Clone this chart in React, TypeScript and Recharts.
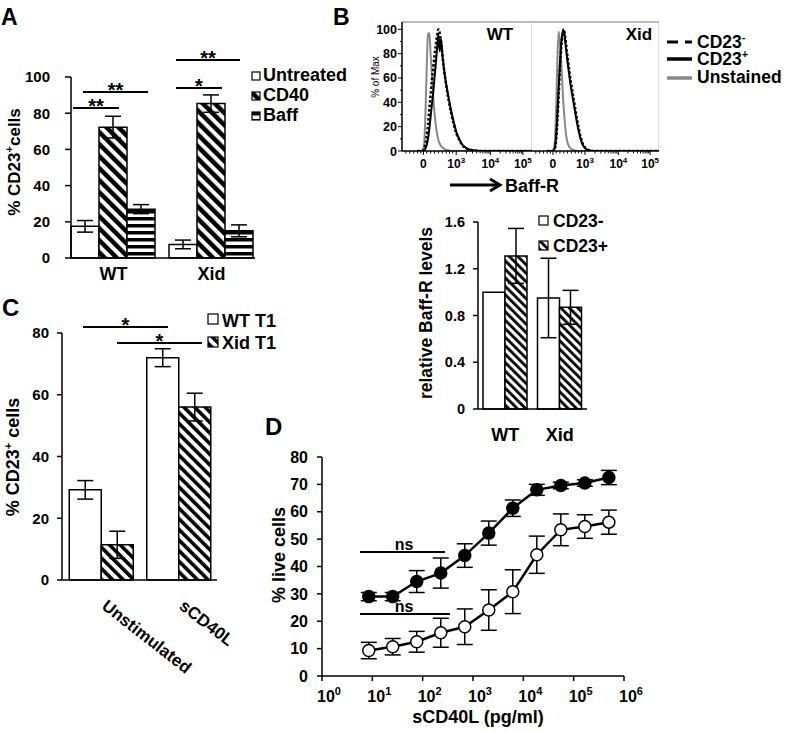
import React from 'react';
import { BarChart, Bar, LineChart, Line, XAxis, YAxis, ErrorBar, ReferenceLine } from 'recharts';

const FONT = '"Liberation Sans", Arial, Helvetica, sans-serif';

// ---- Panel A: % CD23+ cells after treatment ----
const groupsA = ['WT', 'Xid'];
const untreatedA = [17.5, 7.5];
const untreatedErrA = [3.2, 2.4];
const cd40A = [72.3, 85.3];
const cd40ErrA = [6, 4.8];
const baffA = [27, 15];
const baffErrA = [2.5, 3.3];
const ticksA = [0, 20, 40, 60, 80, 100];

// ---- Panel B: Baff-R histograms (channel units, % of max) ----
const histCh = [12, 14, 16, 17, 18, 19, 20, 21, 22, 23, 24, 25, 26, 27, 28, 29, 30, 31, 32, 34, 36, 38, 40, 42, 44, 46, 48, 50, 53, 56, 60, 100];
const wtUnstained = [0, 0, 0.5, 5, 30, 68, 96, 97, 80, 62, 44, 32, 21, 14, 9, 6, 4, 3, 2, 1, 0.5, 0, 0, 0, 0, 0, 0, 0, 0, 0, 0, 0];
const wtNeg = [0, 0, 0.5, 2, 6, 12, 22, 34, 46, 58, 68, 78, 87, 95, 100, 97, 90, 80, 70, 54, 41, 30, 21, 14, 9, 5.5, 3, 1.8, 0.8, 0.3, 0, 0];
const wtPos = [0, 0, 0, 0.5, 2, 5, 10, 18, 28, 38, 48, 60, 72, 84, 96, 82, 92, 80, 70, 55, 43, 32, 23, 15, 10, 6, 3.5, 2, 1, 0.5, 0, 0];
const xidUnstained = [0, 0, 0, 1, 8, 35, 75, 98, 88, 74, 52, 35, 22, 12, 7, 4, 2.5, 1.5, 1, 0.4, 0, 0, 0, 0, 0, 0, 0, 0, 0, 0, 0, 0];
const xidNeg = [0, 0, 0, 0.5, 2, 9, 25, 46, 68, 85, 95, 100, 95, 86, 77, 69, 61, 54, 48, 35, 23, 13, 6, 2.5, 1, 0.5, 0, 0, 0, 0, 0, 0];
const xidPos = [0, 0, 0, 0.5, 3, 12, 30, 52, 72, 88, 97, 99, 92, 82, 73, 65, 57, 50, 44, 32, 20, 11, 5, 2, 1, 0.5, 0, 0, 0, 0, 0, 0];
const histMajorTicks = [16.5, 41.7, 68, 93];
const histTickLabels = ['0', '10^3', '10^4', '10^5'];
const histMinorTicks = [3, 6, 9, 12, 14.5, 19, 22, 25, 28, 31, 34, 36.5, 39, 49.6, 54.2, 57.5, 60.1, 62.2, 63.9, 65.4, 66.8, 75.5, 79.9, 83, 85.5, 87.5, 89.1, 90.6, 91.9];
const histYTicks = [0, 10, 20, 30, 40, 50, 60, 70, 80, 90, 100];

// ---- Panel B: relative Baff-R levels ----
const groupsB = ['WT', 'Xid'];
const cd23NegB = [1.0, 0.95];
const cd23NegErrB = [0, 0.34];
const cd23PosB = [1.31, 0.87];
const cd23PosErrB = [0.235, 0.145];
const ticksB = [0, 0.4, 0.8, 1.2, 1.6];

// ---- Panel C: % CD23+ cells, T1 cells ----
const groupsC = ['Unstimulated', 'sCD40L'];
const wtT1 = [29.2, 72];
const wtT1Err = [3, 2.9];
const xidT1 = [11.4, 56];
const xidT1Err = [4.4, 4.5];
const ticksC = [0, 20, 40, 60, 80];

// ---- Panel D: % live cells vs sCD40L ----
const concD = [8.5, 25.4, 76.2, 229, 686, 2058, 6173, 18519, 55556, 166667, 500000];
const wtLive = [29, 29, 34.5, 37.6, 44, 52.2, 61.3, 68, 69.6, 70.5, 72.5];
const wtLiveErr = [1.5, 1.5, 4, 5.5, 4.3, 4.4, 3, 2, 1.2, 1.2, 2.6];
const xidLive = [9.3, 10.7, 12.5, 15.8, 18, 24.1, 30.8, 44.3, 53.4, 54.6, 56.2];
const xidLiveErr = [3, 3, 3.8, 5.3, 6.5, 7.4, 8, 6.8, 5.8, 4.3, 4.4];
const ticksDX = [1, 10, 100, 1000, 10000, 100000, 1000000];
const tickLabelsDX = ['10^0', '10^1', '10^2', '10^3', '10^4', '10^5', '10^6'];
const ticksDY = [0, 10, 20, 30, 40, 50, 60, 70, 80];

const dataA = groupsA.map((group, i) => ({
  group,
  untreated: untreatedA[i], untreatedErr: untreatedErrA[i],
  cd40: cd40A[i], cd40Err: cd40ErrA[i],
  baff: baffA[i], baffErr: baffErrA[i],
}));
const histWT = histCh.map((ch, i) => ({ ch, unstained: wtUnstained[i], neg: wtNeg[i], pos: wtPos[i] }));
const histXid = histCh.map((ch, i) => ({ ch, unstained: xidUnstained[i], neg: xidNeg[i], pos: xidPos[i] }));
const dataB = groupsB.map((group, i) => ({
  group, neg: cd23NegB[i], negErr: cd23NegErrB[i], pos: cd23PosB[i], posErr: cd23PosErrB[i],
}));
const dataC = groupsC.map((group, i) => ({
  group, wt: wtT1[i], wtErr: wtT1Err[i], xid: xidT1[i], xidErr: xidT1Err[i],
}));
const dataD = concD.map((conc, i) => ({
  conc, wt: wtLive[i], wtErr: wtLiveErr[i], xid: xidLive[i], xidErr: xidLiveErr[i],
}));

const axisStyle = { stroke: '#000', strokeWidth: 1.5 };
const tickStyle = (size: number) => ({ fill: '#000', fontSize: size, fontWeight: 700 });

const PowText = ({ x, y, label, size, supSize, rise }: any) => {
  const [base, exp] = label.split('^');
  return (
    <text x={x} y={y} textAnchor="middle" fontSize={size} fontWeight={700} fill="#000">
      {base}
      {exp !== undefined && <tspan fontSize={supSize} dy={-rise}>{exp}</tspan>}
    </text>
  );
};

const HistYTick = ({ x, y, payload }: any) => {
  const major = payload.value % 20 === 0;
  return (
    <g>
      <line x1={x - (major ? 4 : 2)} x2={x} y1={y} y2={y} stroke="#000" strokeWidth={1} />
      {major && (
        <text x={x - 5} y={y} dy={4.5} textAnchor="end" fontSize={12.5} fontWeight={700} fill="#000">
          {payload.value}
        </text>
      )}
    </g>
  );
};

const HistXTick = ({ x, y, payload }: any) => {
  const i = histMajorTicks.indexOf(payload.value);
  return (
    <g>
      <line x1={x} x2={x} y1={y} y2={y + (i >= 0 ? 4 : 2.5)} stroke="#000" strokeWidth={1} />
      {i >= 0 && <PowText x={x} y={y + 17} label={histTickLabels[i]} size={12} supSize={8} rise={5} />}
    </g>
  );
};

const CTick = ({ x, y, payload }: any) => (
  <text x={x} y={y + 28} transform={`rotate(38, ${x}, ${y + 28})`} textAnchor="start" fontSize={17} fontWeight={700} fill="#000">
    {payload.value}
  </text>
);

const DXTick = ({ x, y, payload }: any) => {
  const i = ticksDX.indexOf(payload.value);
  return (
    <g>
      <line x1={x} x2={x} y1={y} y2={y + 5} stroke="#000" strokeWidth={1.5} />
      <PowText x={x + 7} y={y + 26} label={tickLabelsDX[i]} size={16} supSize={11} rise={7} />
    </g>
  );
};

const HistPanel = ({ data, withLabels }: any) => (
  <LineChart width={withLabels ? 182 : 127} height={176} data={data} margin={{ top: 22, right: 0, bottom: 0, left: 0 }}>
    <XAxis
      dataKey="ch" type="number" domain={[0, 100]} ticks={[...histMajorTicks, ...histMinorTicks]} interval={0}
      height={25} tickLine={false} tickSize={0} tickMargin={0} tick={HistXTick} axisLine={axisStyle}
    />
    {withLabels ? (
      <YAxis
        width={52} domain={[0, 106]} ticks={histYTicks} interval={0} allowDataOverflow
        tickLine={false} tickSize={0} tickMargin={0} tick={HistYTick} axisLine={axisStyle}
      />
    ) : (
      <YAxis width={0} domain={[0, 106]} allowDataOverflow tick={false} tickLine={false} axisLine={{ stroke: '#bbb' }} />
    )}
    <ReferenceLine y={106} stroke="#777" />
    <ReferenceLine x={100} stroke="#bbb" />
    <Line type="monotone" dataKey="unstained" stroke="#888" strokeWidth={2} dot={false} isAnimationActive={false} />
    <Line type="monotone" dataKey="pos" stroke="#000" strokeWidth={2} dot={false} isAnimationActive={false} />
    <Line type="monotone" dataKey="neg" stroke="#000" strokeWidth={2.5} strokeDasharray="2.5 2" dot={false} isAnimationActive={false} />
  </LineChart>
);

const sigLines = [
  { x1: 73, x2: 119, y: 108, t: '**' },
  { x1: 83, x2: 148, y: 92, t: '**' },
  { x1: 176, x2: 222, y: 88, t: '*' },
  { x1: 176, x2: 240, y: 60, t: '**' },
  { x1: 83, x2: 168, y: 327, t: '*' },
  { x1: 117, x2: 202, y: 343, t: '*' },
];
const nsLines = [
  { x1: 360, x2: 445, y: 552 },
  { x1: 360, x2: 450, y: 614 },
];

export default function App() {
  return (
    <div style={{ position: 'absolute', left: 0, top: 0, width: 787, height: 733, background: '#fff', fontFamily: FONT, overflow: 'hidden' }}>
      <svg width={0} height={0} style={{ position: 'absolute' }}>
        <defs>
          <pattern id="diagA" patternUnits="userSpaceOnUse" width={8.5} height={8.5} patternTransform="rotate(-45)">
            <rect width={8.5} height={8.5} fill="#fff" />
            <rect width={4.5} height={8.5} fill="#000" />
          </pattern>
          <pattern id="horizA" patternUnits="userSpaceOnUse" width={8} height={7}>
            <rect width={8} height={7} fill="#fff" />
            <rect width={8} height={3.5} fill="#000" />
          </pattern>
          <pattern id="diagB" patternUnits="userSpaceOnUse" width={6} height={6} patternTransform="rotate(-45)">
            <rect width={6} height={6} fill="#fff" />
            <rect width={2.8} height={6} fill="#000" />
          </pattern>
          <pattern id="diagC" patternUnits="userSpaceOnUse" width={7.5} height={7.5} patternTransform="rotate(-45)">
            <rect width={7.5} height={7.5} fill="#fff" />
            <rect width={3.6} height={7.5} fill="#000" />
          </pattern>
        </defs>
      </svg>

      {/* A */}
      <div style={{ position: 'absolute', left: 0, top: 0 }}>
        <BarChart width={270} height={290} data={dataA} margin={{ top: 77, right: 15, bottom: 0, left: 0 }} barGap={0} barCategoryGap={6.5}>
          <XAxis dataKey="group" height={32} padding={{ left: -6.5, right: -5.5 }} axisLine={axisStyle} tickLine={false} tickSize={0} tickMargin={9} interval={0} tick={tickStyle(18)} />
          <YAxis width={71} domain={[0, 100]} ticks={ticksA} interval={0} axisLine={axisStyle} tickLine={axisStyle} tickSize={6} tickMargin={15} tick={tickStyle(15)} />
          <Bar dataKey="untreated" fill="#fff" stroke="#000" strokeWidth={1.5} isAnimationActive={false}>
            <ErrorBar dataKey="untreatedErr" width={8} stroke="#000" strokeWidth={1.5} direction="y" />
          </Bar>
          <Bar dataKey="cd40" fill="url(#diagA)" stroke="#000" strokeWidth={1.5} isAnimationActive={false}>
            <ErrorBar dataKey="cd40Err" width={8} stroke="#000" strokeWidth={1.5} direction="y" />
          </Bar>
          <Bar dataKey="baff" fill="url(#horizA)" stroke="#000" strokeWidth={1.5} isAnimationActive={false}>
            <ErrorBar dataKey="baffErr" width={8} stroke="#000" strokeWidth={1.5} direction="y" />
          </Bar>
        </BarChart>
      </div>

      {/* B histograms */}
      <div style={{ position: 'absolute', left: 350, top: 0 }}>
        <HistPanel data={histWT} withLabels />
      </div>
      <div style={{ position: 'absolute', left: 532, top: 0 }}>
        <HistPanel data={histXid} withLabels={false} />
      </div>

      {/* B bars */}
      <div style={{ position: 'absolute', left: 400, top: 200 }}>
        <BarChart width={190} height={252} data={dataB} margin={{ top: 22, right: 3, bottom: 0, left: 0 }} barGap={0} barCategoryGap={5}>
          <XAxis dataKey="group" height={43} axisLine={axisStyle} tickLine={false} tickSize={0} tickMargin={19} interval={0} tick={tickStyle(18)} />
          <YAxis width={78} domain={[0, 1.6]} ticks={ticksB} interval={0} axisLine={axisStyle} tickLine={axisStyle} tickSize={5} tickMargin={8} tick={tickStyle(14.5)} />
          <Bar dataKey="neg" fill="#fff" stroke="#000" strokeWidth={1.5} isAnimationActive={false}>
            <ErrorBar dataKey="negErr" width={8} stroke="#000" strokeWidth={1.5} direction="y" />
          </Bar>
          <Bar dataKey="pos" fill="url(#diagB)" stroke="#000" strokeWidth={1.5} isAnimationActive={false}>
            <ErrorBar dataKey="posErr" width={8} stroke="#000" strokeWidth={1.5} direction="y" />
          </Bar>
        </BarChart>
      </div>

      {/* C */}
      <div style={{ position: 'absolute', left: 0, top: 300 }}>
        <BarChart width={240} height={390} data={dataC} margin={{ top: 33, right: 23, bottom: 0, left: 0 }} barGap={0} barCategoryGap={7.25}>
          <XAxis dataKey="group" height={110} axisLine={axisStyle} tickLine={false} tickSize={0} tickMargin={0} interval={0} tick={CTick} />
          <YAxis width={62} domain={[0, 80]} ticks={ticksC} interval={0} axisLine={axisStyle} tickLine={axisStyle} tickSize={5} tickMargin={8} tick={tickStyle(15)} />
          <Bar dataKey="wt" fill="#fff" stroke="#000" strokeWidth={1.5} isAnimationActive={false}>
            <ErrorBar dataKey="wtErr" width={8} stroke="#000" strokeWidth={1.5} direction="y" />
          </Bar>
          <Bar dataKey="xid" fill="url(#diagC)" stroke="#000" strokeWidth={1.5} isAnimationActive={false}>
            <ErrorBar dataKey="xidErr" width={8} stroke="#000" strokeWidth={1.5} direction="y" />
          </Bar>
        </BarChart>
      </div>

      {/* D */}
      <div style={{ position: 'absolute', left: 260, top: 430 }}>
        <LineChart width={410} height={290} data={dataD} margin={{ top: 27, right: 46, bottom: 0, left: 0 }}>
          <XAxis dataKey="conc" type="number" scale="log" domain={[1, 1000000]} ticks={ticksDX} interval={0} height={44} axisLine={axisStyle} tickLine={false} tickSize={0} tickMargin={0} tick={DXTick} />
          <YAxis width={62} domain={[0, 80]} ticks={ticksDY} interval={0} axisLine={axisStyle} tickLine={axisStyle} tickSize={5} tickMargin={9} tick={tickStyle(16)} />
          <Line dataKey="wt" stroke="#000" strokeWidth={2.5} dot={{ r: 6, fill: '#000', stroke: '#000', strokeWidth: 1.5 }} isAnimationActive={false}>
            <ErrorBar dataKey="wtErr" width={8} stroke="#000" strokeWidth={1.5} direction="y" />
          </Line>
          <Line dataKey="xid" stroke="#000" strokeWidth={2.5} dot={{ r: 6, fill: '#fff', stroke: '#000', strokeWidth: 1.5 }} isAnimationActive={false}>
            <ErrorBar dataKey="xidErr" width={8} stroke="#000" strokeWidth={1.5} direction="y" />
          </Line>
        </LineChart>
      </div>

      {/* annotations, titles, legends */}
      <svg width={787} height={733} style={{ position: 'absolute', left: 0, top: 0, pointerEvents: 'none' }} fontFamily={FONT} fontWeight={700} fill="#000">
        <text x={1} y={25} fontSize={23}>A</text>
        <text x={333} y={25} fontSize={23}>B</text>
        <text x={2} y={316} fontSize={24}>C</text>
        <text x={265} y={435} fontSize={24}>D</text>

        {sigLines.map((s, i) => (
          <g key={i}>
            <line x1={s.x1} x2={s.x2} y1={s.y} y2={s.y} stroke="#000" strokeWidth={2} />
            <text x={(s.x1 + s.x2) / 2} y={s.y + 5} textAnchor="middle" fontSize={20}>{s.t}</text>
          </g>
        ))}
        {nsLines.map((s, i) => (
          <g key={i}>
            <line x1={s.x1} x2={s.x2} y1={s.y} y2={s.y} stroke="#000" strokeWidth={2} />
            <text x={404} y={s.y - 2.5} textAnchor="middle" fontSize={16}>ns</text>
          </g>
        ))}

        {/* A legend */}
        <rect x={252} y={72} width={8} height={8} fill="#fff" stroke="#000" strokeWidth={1.2} />
        <rect x={252} y={92} width={8} height={8} fill="url(#diagA)" stroke="#000" strokeWidth={1.2} />
        <rect x={252} y={112} width={8} height={8} fill="url(#horizA)" stroke="#000" strokeWidth={1.2} />
        <text x={263} y={81} fontSize={18}>Untreated</text>
        <text x={263} y={101} fontSize={18}>CD40</text>
        <text x={263} y={121} fontSize={18}>Baff</text>

        {/* A title */}
        <text transform="translate(20,162) rotate(-90)" textAnchor="middle" fontSize={17}>
          % CD23<tspan fontSize={11} dy={-7}>+</tspan><tspan dy={7}>cells</tspan>
        </text>

        {/* B histogram labels */}
        <text transform="translate(379,77) rotate(-90)" textAnchor="middle" fontSize={10} fontWeight={400}>% of Max</text>
        <text x={500} y={40} textAnchor="middle" fontSize={17}>WT</text>
        <text x={639} y={40} textAnchor="middle" fontSize={17}>Xid</text>
        <line x1={450} x2={498} y1={185} y2={185} stroke="#000" strokeWidth={3} />
        <polyline points="490,179 500,185 490,191" fill="none" stroke="#000" strokeWidth={3} />
        <text x={505} y={192} fontSize={18}>Baff-R</text>

        {/* B histogram legend */}
        <line x1={667} x2={692} y1={42} y2={42} stroke="#000" strokeWidth={3} strokeDasharray="11 7" />
        <line x1={667} x2={692} y1={59} y2={59} stroke="#000" strokeWidth={3.5} />
        <line x1={667} x2={692} y1={78} y2={78} stroke="#888" strokeWidth={3.5} />
        <text x={697} y={48} fontSize={17.5}>CD23<tspan fontSize={11} dy={-7}>-</tspan></text>
        <text x={697} y={65} fontSize={17.5}>CD23<tspan fontSize={11} dy={-7}>+</tspan></text>
        <text x={697} y={83} fontSize={17.5}>Unstained</text>

        {/* B bar title + legend */}
        <text transform="translate(432,313) rotate(-90)" textAnchor="middle" fontSize={17.5}>relative Baff-R levels</text>
        <rect x={539} y={216} width={9} height={9} fill="#fff" stroke="#000" strokeWidth={1.2} />
        <rect x={539} y={241} width={9} height={9} fill="url(#diagB)" stroke="#000" strokeWidth={1.2} />
        <text x={553} y={227} fontSize={17.5}>CD23-</text>
        <text x={553} y={252} fontSize={17.5}>CD23+</text>

        {/* C title + legend */}
        <text transform="translate(19,457) rotate(-90)" textAnchor="middle" fontSize={18}>
          % CD23<tspan fontSize={11} dy={-7}>+</tspan><tspan dy={7}> cells</tspan>
        </text>
        <rect x={208} y={314} width={10} height={10} fill="#fff" stroke="#000" strokeWidth={1.2} />
        <rect x={208} y={337} width={10} height={10} fill="url(#diagC)" stroke="#000" strokeWidth={1.2} />
        <text x={222} y={327} fontSize={18}>WT T1</text>
        <text x={222} y={349} fontSize={18}>Xid T1</text>

        {/* D titles */}
        <text transform="translate(285,555) rotate(-90)" textAnchor="middle" fontSize={18}>% live cells</text>
        <text x={478} y={723} textAnchor="middle" fontSize={18}>sCD40L (pg/ml)</text>
      </svg>
    </div>
  );
}
